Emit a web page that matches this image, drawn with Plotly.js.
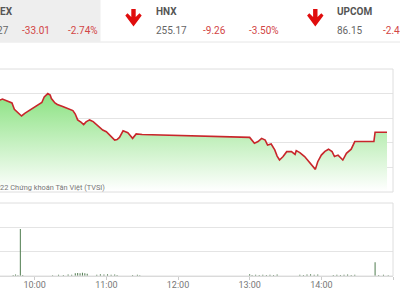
<!DOCTYPE html>
<html>
<head>
<meta charset="utf-8">
<script src="https://cdn.plot.ly/plotly-3.0.1.min.js"></script>
<style>
html,body{margin:0;padding:0;background:#fff;overflow:hidden;width:400px;height:300px;}
#chart{position:absolute;left:-60px;top:0;width:460px;height:300px;}
</style>
</head>
<body>
<div id="chart"></div>
<script>
// ---- data ----
const DAY = '2022-09-26 ';
const priceTimes = ['09:15','09:20','09:25','09:31','09:33','09:38','09:41','09:43','09:46','09:49','09:52','09:56','09:59',
 '10:01','10:06','10:08','10:11','10:13','10:14','10:17','10:19','10:24','10:29','10:32','10:34','10:36','10:39','10:41','10:43','10:46','10:49','10:52','10:55','10:57',
 '11:00','11:03','11:06','11:07','11:09','11:11','11:14','11:16','11:18','11:20','11:22','11:25','11:28','11:30',
 '13:00','13:02','13:04','13:07','13:10','13:13','13:15','13:18','13:21','13:23','13:25','13:28','13:31','13:35','13:38','13:39','13:42','13:46','13:51','13:55','13:57',
 '14:00','14:03','14:06','14:09','14:11','14:14','14:18','14:21','14:25','14:28','14:30','14:44','14:45','14:55'];
const priceValues = [1188.0,1188.6,1187.8,1187.4,1187.8,1187.0,1186.2,1183.6,1182.1,1180.9,1182.1,1183.3,1184.5,
 1184.8,1186.4,1188.6,1190.0,1189.4,1188.0,1186.2,1185.6,1184.7,1183.5,1183.1,1181.7,1179.3,1178.3,1177.4,1178.5,1179.3,1178.6,1177.2,1175.9,1175.2,
 1174.5,1173.2,1171.8,1171.1,1171.3,1172.2,1174.9,1174.6,1174.1,1173.0,1171.8,1173.6,1173.6,1173.4,
 1172.2,1171.1,1169.8,1170.5,1171.8,1171.1,1169.1,1169.5,1167.1,1164.6,1163.0,1164.4,1166.4,1166.4,1165.3,1166.8,1166.0,1164.4,1161.7,1159.2,1162.3,
 1165.0,1166.5,1167.4,1166.4,1164.4,1165.0,1163.0,1165.7,1167.4,1170.5,1170.5,1170.5,1174.3,1174.3];

const volTimes = ['09:42','09:44','09:46','09:48','09:50','10:15','10:20','10:24','10:28','10:31','10:34','10:36','10:38','10:40','10:42','10:44',
 '10:52','10:55','10:58','11:01','11:04','11:07','11:09','11:22','11:26','11:28',
 '13:00','13:02','13:05','13:08','13:11','13:14','13:17','13:20','13:23','13:42','13:45','13:48','13:51','13:54','13:57',
 '14:10','14:13','14:16','14:19','14:22','14:25','14:28','14:45','14:48','14:52','14:56'];
const volValues = [0.8,1.2,0.6,38.6,0.9,0.7,1.0,0.8,1.3,1.0,2.2,2.5,2.3,2.6,2.2,1.8,
 1.0,1.4,1.2,1.5,1.1,1.3,0.9,0.8,1.0,0.7,
 1.5,0.8,1.0,0.9,1.1,0.8,1.0,0.9,1.2,1.0,0.8,1.2,1.4,1.0,1.3,
 0.9,1.1,0.8,1.0,1.2,0.9,1.1,11.3,0.8,1.0,0.7];

const tickLabels = ['10:00','11:00','12:00','13:00','14:00','15:00'];

const headerNames = ['VNINDEX','HNX','UPCOM'];
const headerValues = ['1171.27','255.17','86.15'];
const headerChanges = ['-33.01','-9.26','-2.44'];
const headerPercents = ['-2.74%','-3.50%','-2.44%'];

// ---- geometry helpers (page pixels -> paper) ----
const PL = -37, PW = 430, PB = 276, PH = 207;
const px = x => (x - PL) / PW;
const py = y => (PB - y) / PH;

const priceTrace = {
  x: priceTimes.map(t => DAY + t), y: priceValues,
  type: 'scatter', mode: 'lines',
  line: {color: '#c8262b', width: 1.6},
  fill: 'tozeroy',
  fillgradient: {type: 'vertical', start: 1150, stop: 1200,
    colorscale: [[0, 'rgb(255,255,255)'], [1, 'rgb(108,218,96)']]},
  xaxis: 'x', yaxis: 'y', hoverinfo: 'skip'
};
const volTrace = {
  x: volTimes.map(t => DAY + t), y: volValues,
  type: 'bar', width: 50000,
  marker: {color: '#4d7a4d', line: {width: 0}},
  xaxis: 'x2', yaxis: 'y2', hoverinfo: 'skip'
};

const red = '#d24545';
const hdrX = [
  {name: 14, nameAnchor: 'right', val: 9.5, valAnchor: 'right', chg: 21, pct: 67, arrow: null},
  {name: 155, nameAnchor: 'left', val: 155, valAnchor: 'left', chg: 201.5, pct: 248, arrow: 133.5},
  {name: 336, nameAnchor: 'left', val: 336, valAnchor: 'left', chg: 381.5, pct: 427, arrow: 315.3}
];
const hdrFont = 'Roboto, Arial, sans-serif';
const annotations = [];
const shapes = [];
// header background
shapes.push({type: 'rect', xref: 'paper', yref: 'paper', x0: px(-5), x1: px(100.5), y0: py(41.5), y1: py(-2),
  fillcolor: '#eeeeee', line: {width: 0}, layer: 'below'});
shapes.push({type: 'line', xref: 'paper', yref: 'paper', x0: px(-5), x1: px(405), y0: py(42), y1: py(42),
  line: {color: '#e6e6e6', width: 1}});
headerNames.forEach((n, i) => {
  const h = hdrX[i];
  annotations.push({xref: 'paper', yref: 'paper', x: px(h.name), y: py(11.5), xanchor: h.nameAnchor, yanchor: 'middle',
    text: '<b>' + n + '</b>', showarrow: false, borderpad: 0, font: {family: hdrFont, size: 10, color: '#555'}});
  annotations.push({xref: 'paper', yref: 'paper', x: px(h.val), y: py(30.5), xanchor: h.valAnchor, yanchor: 'middle',
    text: headerValues[i], showarrow: false, borderpad: 0, font: {family: hdrFont, size: 10, color: '#666'}});
  annotations.push({xref: 'paper', yref: 'paper', x: px(h.chg), y: py(30.5), xanchor: 'left', yanchor: 'middle',
    text: headerChanges[i], showarrow: false, borderpad: 0, font: {family: hdrFont, size: 10, color: red}});
  annotations.push({xref: 'paper', yref: 'paper', x: px(h.pct), y: py(30.5), xanchor: 'left', yanchor: 'middle',
    text: headerPercents[i], showarrow: false, borderpad: 0, font: {family: hdrFont, size: 10, color: red}});
  if (h.arrow !== null) {
    const c = h.arrow;
    const pts = [[c-2.2,9],[c+2.2,9],[c+2.2,17],[c+6,13.3],[c+8.2,15.6],[c,26.6],[c-8.2,15.6],[c-6,13.3],[c-2.2,17]];
    const path = 'M' + pts.map(p => px(p[0]) + ',' + py(p[1])).join('L') + 'Z';
    shapes.push({type: 'path', xref: 'paper', yref: 'paper', path: path, fillcolor: '#e00d0d', line: {width: 0}});
  }
});
// panel borders
shapes.push({type: 'rect', xref: 'paper', yref: 'paper', x0: 0, x1: 1, y0: py(192), y1: py(69),
  line: {color: '#dedede', width: 1}, fillcolor: 'rgba(0,0,0,0)'});
shapes.push({type: 'rect', xref: 'paper', yref: 'paper', x0: 0, x1: 1, y0: py(276), y1: py(203),
  line: {color: '#dedede', width: 1}, fillcolor: 'rgba(0,0,0,0)'});
// watermark
annotations.push({xref: 'paper', yref: 'paper', x: px(106), y: py(187), xanchor: 'right', yanchor: 'middle',
  text: '©2022 Chứng khoán Tân Việt (TVSI)', showarrow: false, borderpad: 0,
  font: {family: 'Roboto, sans-serif', size: 7.4, color: '#777'}});

const layout = {
  width: 460, height: 300,
  margin: {l: 23, r: 7, t: 69, b: 24, pad: 0},
  paper_bgcolor: '#fff', plot_bgcolor: 'rgba(0,0,0,0)',
  showlegend: false,
  xaxis: {type: 'date', range: [DAY + '09:00', DAY + '15:00'], anchor: 'y', showticklabels: false,
    showgrid: false, zeroline: false, showline: false, ticks: ''},
  yaxis: {domain: [py(192), 1], range: [1150, 1200], dtick: 10, tick0: 1150, showticklabels: false,
    gridcolor: '#e4e4e4', gridwidth: 1, zeroline: false, showline: false, ticks: ''},
  xaxis2: {type: 'date', range: [DAY + '09:00', DAY + '15:00'], anchor: 'y2', matches: 'x',
    tickmode: 'array', tickvals: tickLabels.map(t => DAY + t), ticktext: tickLabels,
    ticks: 'outside', ticklen: 3, tickcolor: '#cccccc', showgrid: false, zeroline: false,
    showline: true, linecolor: '#d6d6d6', ticklabelstandoff: -3,
    tickfont: {family: 'Roboto, sans-serif', size: 9, color: '#777'}},
  yaxis2: {domain: [0, py(203)], range: [0, 60], dtick: 20, showticklabels: false,
    gridcolor: '#e4e4e4', gridwidth: 1, zeroline: false, showline: false, ticks: ''},
  shapes: shapes, annotations: annotations
};

Plotly.newPlot('chart', [priceTrace, volTrace], layout, {displayModeBar: false, staticPlot: true});
</script>
</body>
</html>
